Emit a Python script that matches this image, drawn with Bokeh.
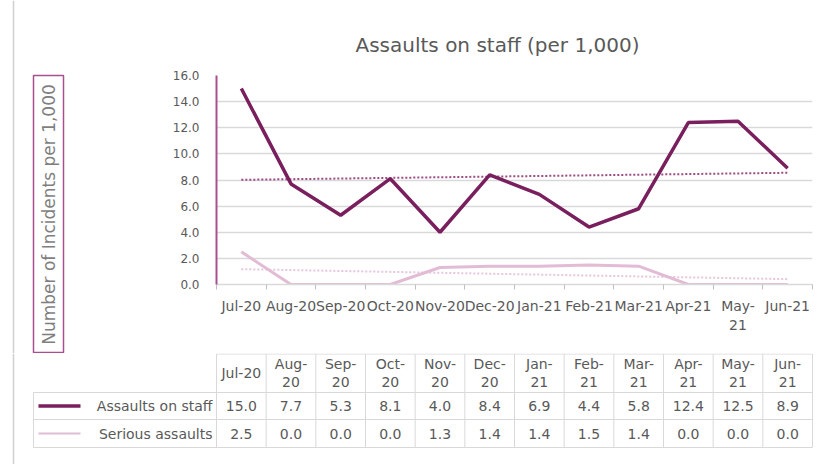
import numpy as np
from bokeh.plotting import figure
from bokeh.models import Range1d, FixedTicker, NumeralTickFormatter
from bokeh.layouts import column, row
from bokeh.embed import file_html
from bokeh.resources import INLINE
from bokeh.core.properties import value

# ---------------- data ----------------
months = ["Jul-20", "Aug-20", "Sep-20", "Oct-20", "Nov-20", "Dec-20",
          "Jan-21", "Feb-21", "Mar-21", "Apr-21", "May-21", "Jun-21"]
axis_labels = ["Jul-20", "Aug-20", "Sep-20", "Oct-20", "Nov-20", "Dec-20",
               "Jan-21", "Feb-21", "Mar-21", "Apr-21", "May-\n21", "Jun-21"]
header_labels = ["Jul-20", "Aug-\n20", "Sep-\n20", "Oct-\n20", "Nov-\n20", "Dec-\n20",
                 "Jan-\n21", "Feb-\n21", "Mar-\n21", "Apr-\n21", "May-\n21", "Jun-\n21"]
assaults = [15.0, 7.7, 5.3, 8.1, 4.0, 8.4, 6.9, 4.4, 5.8, 12.4, 12.5, 8.9]
serious = [2.5, 0.0, 0.0, 0.0, 1.3, 1.4, 1.4, 1.5, 1.4, 0.0, 0.0, 0.0]
series_names = ["Assaults on staff", "Serious assaults"]
y_ticks = [0, 2, 4, 6, 8, 10, 12, 14, 16]
title_text = "Assaults on staff (per 1,000)"
y_label = "Number of Incidents per 1,000"

# ---------------- style ----------------
FONT = "DejaVu Sans"
GRAY = "#595959"
LGRAY = "#d9d9d9"
DARK = "#7a1f5d"
PINK = "#e2bcd5"
DARK_TREND = "#9d4a84"
PINK_TREND = "#e6c6dc"
BOX = "#a8508e"

n = len(months)
xc = [i + 0.5 for i in range(n)]

# geometry (pixels)
LW = 142                       # width of the y-title panel
FL, FR, FT, FB = 216, 812, 75, 284
W, H1, H2 = 821, 353, 111
CW = (FR - FL) / n


def no_align(p):
    try:
        p.frame_align = False
    except Exception:
        pass


# ---------------- chart ----------------
chart = figure(width=W - LW, height=H1, x_range=Range1d(0, n), y_range=Range1d(0, 16),
               output_backend="svg", toolbar_location=None,
               min_border_left=FL - LW, min_border_right=W - FR,
               min_border_top=FT, min_border_bottom=H1 - FB)
no_align(chart)
chart.outline_line_color = None
chart.xgrid.grid_line_color = None
chart.ygrid.grid_line_color = LGRAY
chart.ygrid.grid_line_width = 1.5

chart.title.text = title_text
chart.title.align = "left"
chart.title.offset = 139
chart.title.standoff = 37
chart.title.text_font = FONT
chart.title.text_font_size = "20px"
chart.title.text_font_style = "normal"
chart.title.text_color = GRAY

ya = chart.yaxis[0]
ya.ticker = FixedTicker(ticks=y_ticks)
ya.formatter = NumeralTickFormatter(format="0.0")
ya.major_tick_line_color = None
ya.minor_tick_line_color = None
ya.axis_line_color = BOX
ya.axis_line_width = 2
ya.major_label_text_font = FONT
ya.major_label_text_font_size = "12px"
ya.major_label_text_color = GRAY
ya.major_label_standoff = 11

xa = chart.xaxis[0]
xa.ticker = FixedTicker(ticks=xc, minor_ticks=list(range(n + 1)))
xa.major_label_overrides = {x: lab for x, lab in zip(xc, axis_labels)}
xa.major_tick_line_color = None
xa.minor_tick_line_color = "#bfbfbf"
xa.minor_tick_out = 5
xa.minor_tick_in = 0
xa.axis_line_color = LGRAY
xa.axis_line_width = 1.5
xa.major_label_text_font = FONT
xa.major_label_text_font_size = "14px"
xa.major_label_text_color = GRAY
xa.major_label_standoff = 7

# trend lines (linear fit of the data)
ca = np.polyfit(xc, assaults, 1)
cs = np.polyfit(xc, serious, 1)
tx = [xc[0], xc[-1]]
chart.line(tx, list(np.polyval(ca, tx)), line_color=DARK_TREND, line_width=2, line_dash="2 2")
chart.line(tx, list(np.polyval(cs, tx)), line_color=PINK_TREND, line_width=2, line_dash="2 2")
chart.line(xc, serious, line_color=PINK, line_width=3)
chart.line(xc, assaults, line_color=DARK, line_width=3.5)

# ---------------- y-title panel ----------------
lab = figure(width=LW, height=H1, x_range=Range1d(0, LW), y_range=Range1d(H1, 0),
             min_border=0, output_backend="svg", toolbar_location=None)
no_align(lab)
lab.axis.visible = False
lab.grid.visible = False
lab.outline_line_color = None
lab.segment(x0=[13], y0=[0], x1=[13], y1=[H1], line_color="#d0d0d0", line_width=1.5)
lab.quad(left=[33], right=[63], top=[75], bottom=[352], fill_color=None,
         line_color=BOX, line_width=1.5)
lab.text(x=[48], y=[214], text=[y_label], angle=np.pi / 2, text_align="center",
         text_baseline="middle", text_font=value(FONT), text_font_size="17px",
         text_color="#7f7f7f")

# ---------------- data table ----------------
def px(p):
    return (p - FL) / CW


tab = figure(width=W, height=H2, x_range=Range1d(px(0), px(W)), y_range=Range1d(H2, 0),
             min_border=0, output_backend="svg", toolbar_location=None)
no_align(tab)
tab.axis.visible = False
tab.grid.visible = False
tab.outline_line_color = None

xl = px(33)
r_top, r1, r2, r_bot = 0.5, 39, 66, 94
tab.segment(x0=[px(13)], y0=[0], x1=[px(13)], y1=[H2], line_color="#d0d0d0", line_width=1.5)
tab.segment(x0=[0, xl, xl, xl], y0=[r_top, r1, r2, r_bot], x1=[n, n, n, n],
            y1=[r_top, r1, r2, r_bot], line_color=LGRAY, line_width=1)
tab.segment(x0=list(range(n + 1)), y0=[r_top] * (n + 1), x1=list(range(n + 1)),
            y1=[r_bot] * (n + 1), line_color=LGRAY, line_width=1)
tab.segment(x0=[xl], y0=[r1], x1=[xl], y1=[r_bot], line_color=LGRAY, line_width=1)

tkw = dict(text_font=value(FONT), text_font_size="14px", text_color=GRAY,
           text_align="center", text_baseline="middle")
tab.text(x=xc, y=[(r_top + r1) / 2] * n, text=header_labels, line_height=1.1, **tkw)
tab.text(x=xc, y=[(r1 + r2) / 2] * n, text=[f"{v:.1f}" for v in assaults], **tkw)
tab.text(x=xc, y=[(r2 + r_bot) / 2] * n, text=[f"{v:.1f}" for v in serious], **tkw)

tab.segment(x0=[px(38)], y0=[(r1 + r2) / 2], x1=[px(80)], y1=[(r1 + r2) / 2],
            line_color=DARK, line_width=3.5)
tab.segment(x0=[px(38)], y0=[(r2 + r_bot) / 2], x1=[px(80)], y1=[(r2 + r_bot) / 2],
            line_color=PINK, line_width=2)
tab.text(x=[px(212)] * 2, y=[(r1 + r2) / 2, (r2 + r_bot) / 2], text=series_names,
         text_font=value(FONT), text_font_size="14px", text_color=GRAY,
         text_align="right", text_baseline="middle")

layout = column(row(column(lab), column(chart)), row(tab))
open("out.html", "w").write(file_html(layout, INLINE))
